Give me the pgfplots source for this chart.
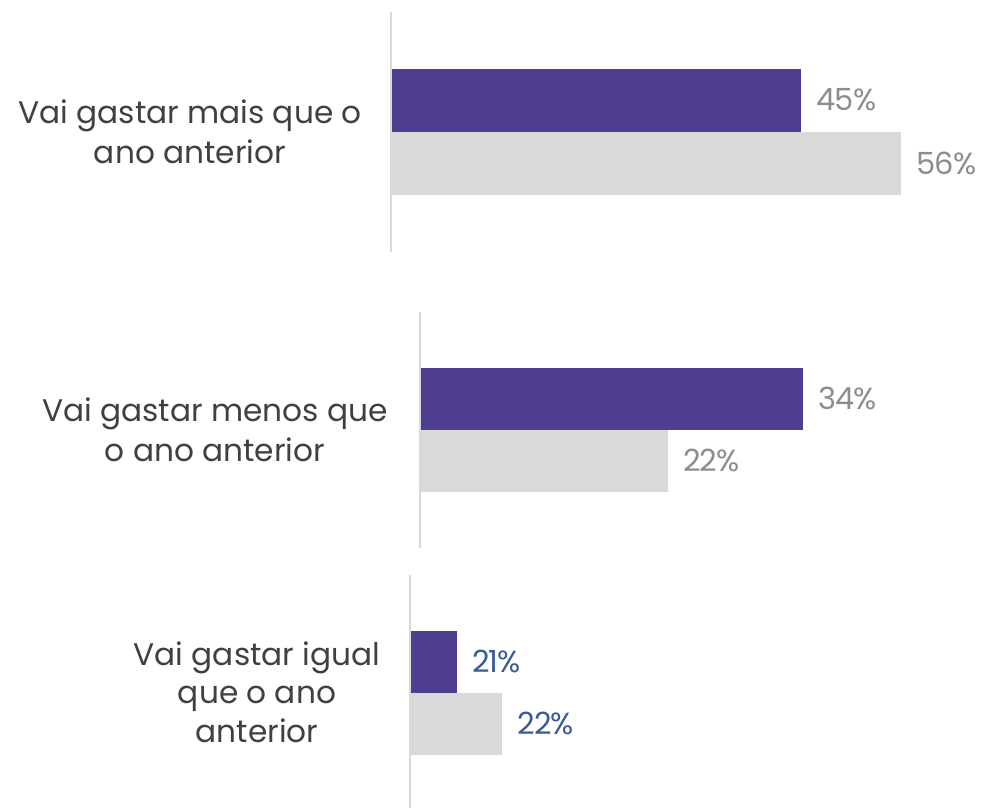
\documentclass[border=0pt]{standalone}
\usepackage{pgfplots}
\pgfplotsset{compat=1.18}
\usepackage{fontspec}
\setmainfont{Poppins}
\definecolor{barpurple}{HTML}{4F3D8E}
\definecolor{bargray}{HTML}{D9D9D9}
\definecolor{lblgray}{HTML}{8C8C8C}
\definecolor{lblblue}{HTML}{3B5A9A}
\definecolor{txt}{HTML}{404040}
\definecolor{axgray}{HTML}{D9D9D9}
\pgfplotsset{
  panel/.style={
    y=1pt, xmin=0, ymin=0, clip=false,
    axis line style={draw=none}, ticks=none,
    anchor=south west,
    xbar, bar shift=0pt, bar width=63pt,
    point meta=explicit,
    /pgf/number format/assume math mode=true,
    nodes near coords={\pgfmathprintnumber{\pgfplotspointmeta}\%},
    nodes near coords style={font=\fontsize{30.5}{36}\selectfont\addfontfeatures{LetterSpace=-3}, anchor=west, xshift=12pt, yshift=1pt},
  },
}
\begin{document}
\begin{tikzpicture}[x=1pt,y=1pt]
\useasboundingbox (0,0) rectangle (984,808);
% Panel 1
\begin{axis}[panel, x=9.11pt, xmax=60, ymax=240, at={(391pt,556pt)},
  nodes near coords style={text=lblgray}]
\addplot[fill=barpurple, draw=none] coordinates {(45,151.5) [45]};
\addplot[fill=bargray, draw=none] coordinates {(56,88) [56]};
\draw[axgray, line width=1.8pt] (axis cs:0,0) -- (axis cs:0,240);
\end{axis}
% Panel 2
\begin{axis}[panel, x=11.26pt, xmax=45, ymax=236, at={(420pt,260pt)},
  bar width=62pt, nodes near coords style={text=lblgray}]
\addplot[fill=barpurple, draw=none] coordinates {(34,149) [34]};
\addplot[fill=bargray, draw=none] coordinates {(22,87) [22]};
\draw[axgray, line width=1.8pt] (axis cs:0,0) -- (axis cs:0,236);
\end{axis}
% Panel 3
\begin{axis}[panel, x=4.18pt, xmax=60, ymax=233, at={(410pt,0pt)},
  bar width=62pt, nodes near coords style={text=lblblue}]
\addplot[fill=barpurple, draw=none] coordinates {(11.2,146) [21]};
\addplot[fill=bargray, draw=none] coordinates {(22,84) [22]};
\draw[axgray, line width=1.8pt] (axis cs:0,0) -- (axis cs:0,233);
\end{axis}
% Category labels
\node[align=center, text=txt, font=\fontsize{31.2}{40}\selectfont] at (190,676) {Vai gastar mais que o\\ano anterior};
\node[align=center, text=txt, font=\fontsize{31.2}{40}\selectfont] at (215,378) {Vai gastar menos que\\o ano anterior};
\node[align=center, text=txt, font=\fontsize{31.2}{38.5}\selectfont] at (257,116) {Vai gastar igual\\que o ano\\anterior};
\end{tikzpicture}
\end{document}
